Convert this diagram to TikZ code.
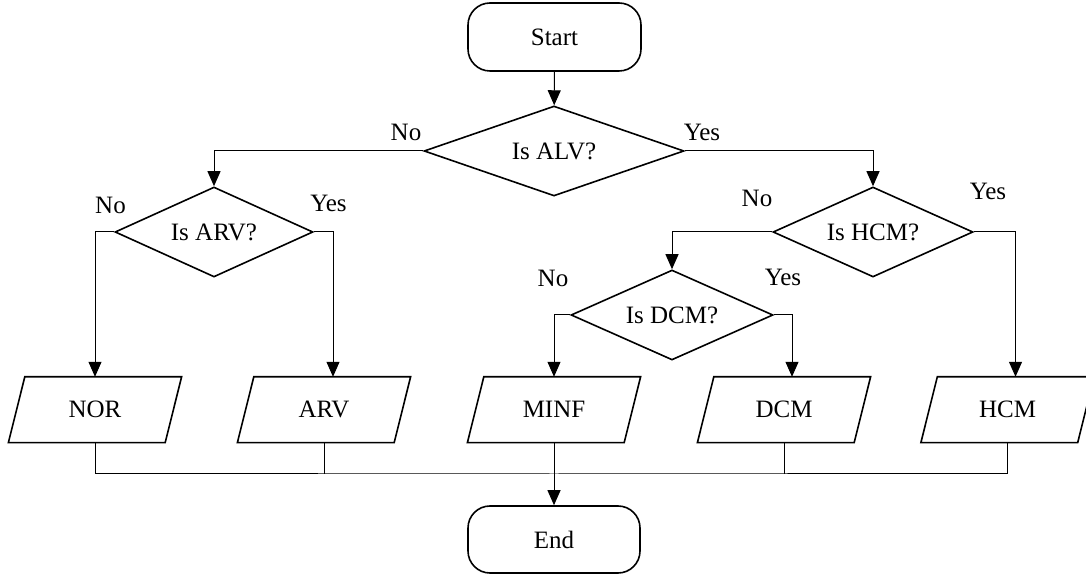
\documentclass[tikz,border=0pt]{standalone}
\usepackage{fontspec}
\setmainfont{Liberation Serif}
\usetikzlibrary{shapes.geometric,arrows.meta}
\begin{document}
\begin{tikzpicture}[x=0.5pt,y=-0.5pt,
  every node/.style={font=\fontsize{12.5}{15}\selectfont},
  term/.style={draw, line width=0.8pt, rounded corners=11pt, minimum width=86.5pt, minimum height=34pt, inner sep=0pt},
  decision/.style={draw, line width=0.8pt, diamond, aspect=2.5, inner sep=0pt, minimum height=45pt},
  iobox/.style={rectangle, minimum width=78pt, minimum height=32.5pt, inner sep=0pt},
  ioline/.style={line width=0.8pt, line join=miter},
  conn/.style={line width=0.5pt},
  arr/.style={line width=0.5pt, -{Triangle[length=7.5pt,width=6.5pt]}},
  lbl/.style={inner sep=0pt}
]
\useasboundingbox (0,0) rectangle (1086,576);

% terminals
\node[term] (start) at (554.5,37) {Start};
\node[term, minimum height=33.5pt, minimum width=86pt] (end) at (554,539.5) {End};

% decisions
\node[decision, minimum width=130pt] (alv) at (554,151) {Is ALV?};
\node[decision, minimum width=99pt] (arvd) at (214,232) {Is ARV?};
\node[decision, minimum width=100pt] (hcmd) at (873,232) {Is HCM?};
\node[decision, minimum width=101pt] (dcmd) at (672,315) {Is DCM?};

% outputs
\node[iobox] (nor) at (95,409.7) {NOR};
\node[iobox] (arv) at (324,409.7) {ARV};
\node[iobox] (minf) at (554,409.7) {MINF};
\node[iobox] (dcm) at (784,409.7) {DCM};
\node[iobox] (hcm) at (1007.5,409.7) {HCM};
\foreach \n in {nor,arv,minf,dcm,hcm}
  \draw[ioline] ([xshift=4.1pt]\n.north west) -- ([xshift=4.1pt]\n.north east)
     -- ([xshift=-4.1pt]\n.south east) -- ([xshift=-4.1pt]\n.south west) -- cycle;

% labels
\node[lbl] (l1) at (406,132) {No};
\node[lbl] (l2) at (702,132.5) {Yes};
\node[lbl] (l3) at (110.5,205) {No};
\node[lbl] (l4) at (328.5,203.5) {Yes};
\node[lbl] (l5) at (757,198) {No};
\node[lbl] (l6) at (988,191.5) {Yes};
\node[lbl] (l7) at (553,278) {No};
\node[lbl] (l8) at (783,277) {Yes};

% connectors
\draw[arr] (start) -- (alv);
\draw[arr] (alv.west) -| (arvd.north);
\draw[arr] (alv.east) -| (hcmd.north);
\draw[arr] (arvd.west) -| (nor.north);
\draw[arr] (arvd.east) -| ([xshift=4.5pt]arv.north);
\draw[arr] (hcmd.west) -| (dcmd.north);
\draw[arr] (hcmd.east) -| ([xshift=4pt]hcm.north);
\draw[arr] (dcmd.west) -| (minf.north);
\draw[arr] (dcmd.east) -| ([xshift=4pt]dcm.north);

\coordinate (merge) at (554,474);
\draw[conn] (nor.south) |- (merge) -| (hcm.south);
\draw[conn] (arv.south) -- (arv.south |- merge);
\draw[conn] (dcm.south) -- (dcm.south |- merge);
\draw[arr] (minf.south) -- (end);
\end{tikzpicture}
\end{document}
